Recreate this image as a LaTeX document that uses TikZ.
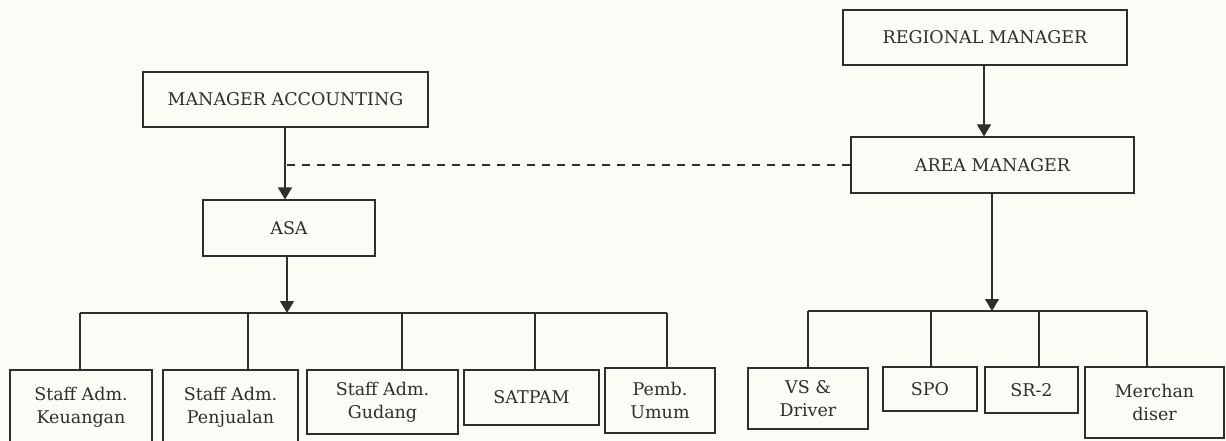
\documentclass[tikz,border=0pt]{standalone}
\usepackage{fontspec}
\setmainfont{DejaVu Serif}
\usetikzlibrary{arrows.meta,calc}
\definecolor{ink}{HTML}{2E2E2E}
\definecolor{paper}{HTML}{FCFCF6}
\begin{document}
\begin{tikzpicture}[x=1pt,y=-1pt,
  orgbox/.style={draw=ink,line width=1.1pt,text=ink,align=center,inner sep=0pt,
    font=\fontsize{17.5}{23}\selectfont},
  link/.style={draw=ink,line width=1.1pt},
  headarrow/.style={link,-{Triangle[width=14pt,length=12pt]}},
  dotted link/.style={link,dash pattern=on 8pt off 7pt}]
\useasboundingbox (0,0) rectangle (1226,441);
\clip (0,0) rectangle (1226,441);
\fill[paper] (0,0) rectangle (1226,441);

% top level boxes
\node[orgbox,minimum width=285,minimum height=55] (MA) at (285.5,99.5) {MANAGER ACCOUNTING};
\node[orgbox,minimum width=172,minimum height=56] (ASA) at (289,228) {ASA};
\node[orgbox,minimum width=284,minimum height=55] (RM) at (985,37.5) {REGIONAL MANAGER};
\node[orgbox,minimum width=283,minimum height=56] (AM) at (992.5,165) {AREA MANAGER};

% left children
\node[orgbox,minimum width=142,minimum height=75] (K) at (81,407.5) {Staff Adm.\\Keuangan};
\node[orgbox,minimum width=135,minimum height=75] (P) at (230.5,407.5) {Staff Adm.\\Penjualan};
\node[orgbox,minimum width=151,minimum height=64] (G) at (382.5,402) {Staff Adm.\\Gudang};
\node[orgbox,minimum width=135,minimum height=55] (S) at (531.5,397.5) {SATPAM};
\node[orgbox,minimum width=110,minimum height=65] (PU) at (660,400.5) {Pemb.\\Umum};

% right children
\node[orgbox,minimum width=120,minimum height=61] (VS) at (808,398.5) {VS \&\\Driver};
\node[orgbox,minimum width=94,minimum height=44] (SPO) at (930,389) {SPO};
\node[orgbox,minimum width=93,minimum height=46] (SR) at (1031.5,390) {SR-2};
\node[orgbox,minimum width=139,minimum height=71] (MD) at (1154.5,402.5) {Merchan\\diser};

% connector points
\coordinate (aMA) at (285,127);
\coordinate (aASA) at (287,256);
\coordinate (aRM) at (984,65);
\coordinate (aAM) at (992,193);
\coordinate (dK) at (80,313);
\coordinate (dP) at (248,313);
\coordinate (dG) at (402,313);
\coordinate (dS) at (535,313);
\coordinate (dPU) at (667,313);
\coordinate (dVS) at (808,311);
\coordinate (dSPO) at (931,311);
\coordinate (dSR) at (1039,311);
\coordinate (dMD) at (1147,311);

% arrows
\draw[headarrow] (aMA) -- (aMA |- ASA.north);
\draw[headarrow] (aRM) -- (aRM |- AM.north);
\draw[headarrow] (aASA) -- (aASA |- dK);
\draw[headarrow] (aAM) -- (aAM |- dVS);

% dashed staff line
\draw[dotted link] (AM.west) -- (aMA |- AM.west);

% left bar and drops
\draw[link] (dK) -- (dPU);
\draw[link] (dK) -- (dK |- K.north);
\draw[link] (dP) -- (dP |- P.north);
\draw[link] (dG) -- (dG |- G.north);
\draw[link] (dS) -- (dS |- S.north);
\draw[link] (dPU) -- (dPU |- PU.north);

% right bar and drops
\draw[link] (dVS) -- (dMD);
\draw[link] (dVS) -- (dVS |- VS.north);
\draw[link] (dSPO) -- (dSPO |- SPO.north);
\draw[link] (dSR) -- (dSR |- SR.north);
\draw[link] (dMD) -- (dMD |- MD.north);
\end{tikzpicture}
\end{document}
